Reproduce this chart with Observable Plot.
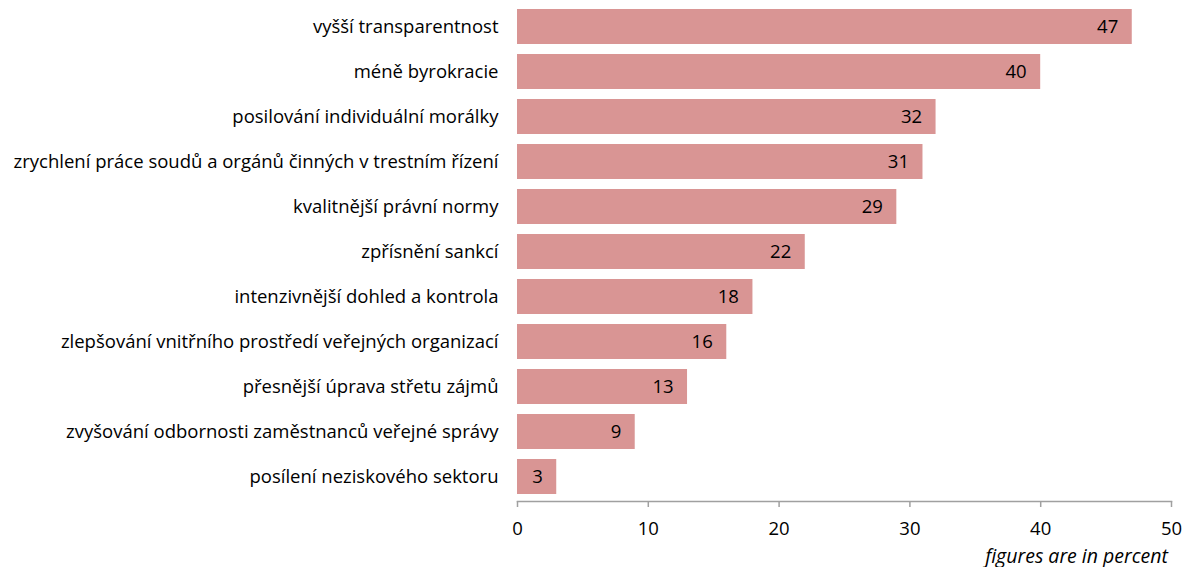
<!DOCTYPE html>
<html>
<head>
<meta charset="utf-8">
<script src="https://cdn.jsdelivr.net/npm/d3@7"></script>
<script src="https://cdn.jsdelivr.net/npm/@observablehq/plot@0.6"></script>
<style>
  html, body { margin: 0; padding: 0; background: #fff; }
  #chart { width: 1184px; height: 545px; }
  .caption { width: 1184px; box-sizing: border-box; padding-right: 16px; text-align: right; font-family: "Open Sans", sans-serif; font-style: italic; font-size: 19.5px; line-height: 22px; color: #000; }
</style>
</head>
<body>
<div id="chart"></div>
<div class="caption">figures are in percent</div>
<script>
const categories = [
  "vyšší transparentnost",
  "méně byrokracie",
  "posilování individuální morálky",
  "zrychlení práce soudů a orgánů činných v trestním řízení",
  "kvalitnější právní normy",
  "zpřísnění sankcí",
  "intenzivnější dohled a kontrola",
  "zlepšování vnitřního prostředí veřejných organizací",
  "přesnější úprava střetu zájmů",
  "zvyšování odbornosti zaměstnanců veřejné správy",
  "posílení neziskového sektoru"
];
const values = [47, 40, 32, 31, 29, 22, 18, 16, 13, 9, 3];
const xTicks = [0, 10, 20, 30, 40, 50];

const data = categories.map((c, i) => ({category: c, value: values[i]}));

const chart = Plot.plot({
  width: 1184,
  height: 545,
  marginLeft: 517,
  marginRight: 13,
  marginTop: 1,
  marginBottom: 44,
  style: {fontFamily: "'Open Sans', sans-serif", fontSize: "18.5px", color: "#000", background: "#fff"},
  x: {domain: [0, 50], ticks: xTicks},
  y: {domain: categories, paddingInner: 0.227, paddingOuter: 0.11},
  marks: [
    Plot.barX(data, {x: "value", y: "category", fill: "#d99594"}),
    Plot.text(data, {x: "value", y: "category", text: d => String(d.value), textAnchor: "end", dx: -14, fill: "#000", fontSize: 18.5}),
    Plot.axisY({tickSize: 0, tickPadding: 19, label: null, fontSize: 18.5}),
    Plot.axisX({ticks: xTicks, tickSize: 6, tickPadding: 14, stroke: "#a0a0a0", strokeWidth: 1.5, label: null, fontSize: 18.5}),
    Plot.frame({anchor: "bottom", stroke: "#a0a0a0", strokeWidth: 1.5})
  ]
});
document.getElementById("chart").appendChild(chart);
</script>
</body>
</html>
